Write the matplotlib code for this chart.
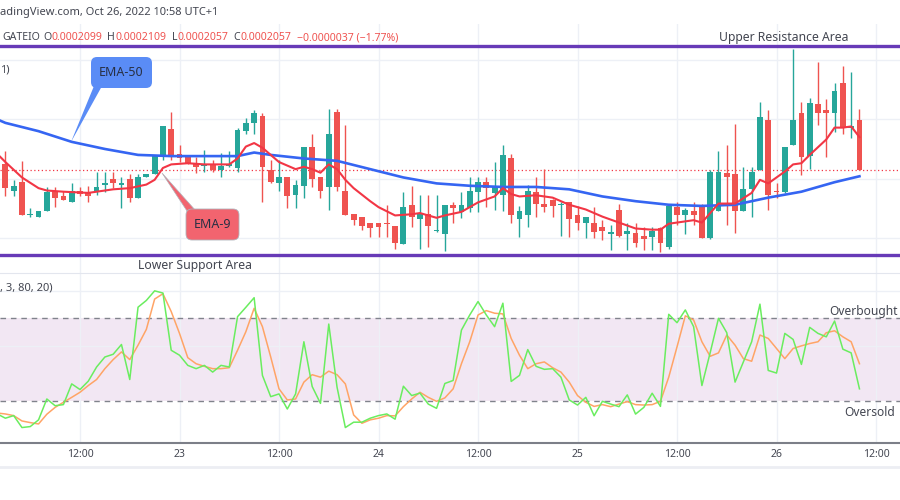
import numpy as np
import matplotlib
matplotlib.use('Agg')
import matplotlib.pyplot as plt
from matplotlib.patches import FancyBboxPatch, Polygon
from matplotlib.lines import Line2D
from matplotlib.transforms import Affine2D

plt.rcParams['font.family'] = ['Noto Sans', 'DejaVu Sans']

# GATEIO hourly candles, first one Oct 22 03:00 (UTC+1)
# prices in units of 1e-7 USDT
opens = [2062, 2040, 2047, 2019, 2018, 2023, 2040, 2035, 2030, 2040,
         2038, 2039, 2045, 2050, 2045, 2050, 2034, 2051, 2054, 2070,
         2092, 2071, 2068, 2062, 2061, 2062, 2057, 2061, 2059, 2090,
         2097, 2103, 2057, 2046, 2051, 2036, 2044, 2077, 2051, 2043,
         2106, 2040, 2020, 2018, 2013, 2013, 2013, 2010, 1995, 2028,
         2016, 2020, 2006, 2003, 2028, 2022, 2025, 2039, 2047, 2038,
         2036, 2067, 2016, 2019, 2039, 2029, 2032, 2028, 2030, 2019,
         2013, 2013, 2009, 2003, 2024, 2003, 2004, 2002, 2001, 2008,
         1992, 2026, 2019, 2023, 2027, 2000, 2023, 2055, 2054, 2023,
         2041, 2057, 2099, 2040, 2039, 2078, 2105, 2069, 2113, 2108,
         2105, 2131, 2093, 2099]
highs = [2073, 2049, 2065, 2025, 2023, 2043, 2043, 2040, 2046, 2043,
         2044, 2056, 2056, 2056, 2051, 2054, 2054, 2054, 2070, 2094,
         2106, 2078, 2070, 2068, 2074, 2066, 2072, 2073, 2093, 2101,
         2108, 2105, 2066, 2066, 2051, 2049, 2077, 2088, 2051, 2109,
         2109, 2095, 2020, 2018, 2013, 2013, 2028, 2010, 2039, 2044,
         2036, 2036, 2036, 2028, 2030, 2039, 2051, 2051, 2051, 2064,
         2078, 2071, 2027, 2045, 2051, 2058, 2033, 2030, 2030, 2027,
         2018, 2026, 2015, 2011, 2029, 2013, 2013, 2009, 2009, 2009,
         2029, 2030, 2025, 2030, 2029, 2057, 2073, 2078, 2096, 2060,
         2060, 2115, 2108, 2046, 2077, 2159, 2115, 2118, 2148, 2117,
         2131, 2145, 2140, 2109]
lows = [2035, 2035, 2019, 2018, 2018, 2023, 2026, 2032, 2030, 2035,
        2030, 2036, 2039, 2042, 2025, 2030, 2034, 2051, 2054, 2066,
        2066, 2064, 2062, 2055, 2056, 2056, 2051, 2060, 2056, 2088,
        2088, 2030, 2046, 2040, 2025, 2025, 2034, 2043, 2034, 2024,
        2040, 2019, 2011, 2007, 2001, 2001, 2001, 1991, 1995, 2009,
        1991, 1992, 2005, 1989, 2013, 2017, 2022, 2022, 2026, 2024,
        2023, 2013, 2001, 2009, 2018, 2022, 2018, 2002, 2001, 2007,
        2000, 2000, 1998, 1990, 2001, 1990, 1992, 1990, 1990, 1988,
        1991, 2011, 2003, 2011, 2000, 1999, 2023, 2011, 2004, 2023,
        2018, 2057, 2024, 2034, 2038, 2078, 2053, 2058, 2095, 2068,
        2089, 2088, 2084, 2057]
closes = [2042, 2044, 2019, 2020, 2023, 2039, 2034, 2032, 2040, 2037,
          2035, 2043, 2046, 2046, 2046, 2034, 2051, 2054, 2070, 2094,
          2070, 2067, 2062, 2060, 2062, 2057, 2061, 2062, 2091, 2097,
          2105, 2060, 2047, 2051, 2035, 2045, 2077, 2050, 2040, 2088,
          2043, 2019, 2015, 2010, 2008, 2009, 2012, 1996, 2026, 2018,
          2021, 2010, 2007, 2028, 2025, 2028, 2040, 2047, 2042, 2044,
          2070, 2019, 2023, 2040, 2029, 2026, 2027, 2029, 2016, 2013,
          2018, 2005, 2006, 2005, 2002, 2006, 1996, 1999, 2006, 1996,
          2027, 2019, 2024, 2019, 2000, 2056, 2056, 2051, 2023, 2041,
          2056, 2102, 2036, 2039, 2077, 2099, 2068, 2114, 2105, 2105,
          2124, 2093, 2094, 2057]

# moving averages (candle index, price)
ema50_idx = [-1, 0, 4, 8, 12, 16, 20, 24, 28, 30, 32, 36, 40, 44, 48, 52,
             56, 60, 64, 68, 72, 76, 80, 84, 88, 92, 96, 100, 103]
ema50 = [2100, 2097, 2090, 2081, 2075, 2070, 2069, 2069, 2069, 2072, 2070,
         2067, 2065, 2058, 2051, 2046, 2044, 2043, 2043, 2041, 2035, 2031,
         2028, 2027, 2028, 2034, 2039, 2047, 2052]
ema9_idx = [-1, 0, 2, 4, 5, 7, 10, 11, 13, 15, 17, 18, 19, 20, 22, 24, 27,
            28, 29, 30, 31, 33, 35, 36, 37, 38, 39, 40, 41, 42, 44, 45, 47,
            49, 50, 52, 53, 55, 57, 59, 60, 61, 62, 64, 66, 68, 70, 72, 74,
            76, 78, 79, 80, 83, 84, 85, 86, 88, 90, 91, 92, 94, 95, 96, 97,
            99, 100, 101, 102, 103]
ema9 = [2071, 2064, 2051, 2042, 2040, 2039, 2038, 2039, 2041, 2042, 2045,
        2049, 2059, 2062, 2063, 2062, 2062, 2067, 2077, 2080, 2076, 2064,
        2058, 2060, 2058, 2055, 2062, 2058, 2049, 2042, 2031, 2026, 2019,
        2020, 2021, 2017, 2019, 2022, 2030, 2035, 2042, 2037, 2035, 2036,
        2034, 2028, 2024, 2018, 2013, 2008, 2007, 2007, 2012, 2015, 2013,
        2021, 2029, 2029, 2038, 2049, 2046, 2056, 2062, 2063, 2070, 2083,
        2093, 2093, 2094, 2085]

# stochastic (80 / 20 levels), starts one candle before the first full candle
stoch_k = [10.4, 7.2, 9.1, 0.4, 1.1, 6.0, 21.2, 16.3, 17.1, 32.2, 28.1,
           34.2, 44.5, 51.8, 53.8, 60.9, 35.4, 88.1, 93.0, 100.0, 98.4,
           56.7, 53.1, 45.7, 43.3, 45.7, 40.8, 45.7, 44.5, 81.2, 88.0,
           95.0, 38.4, 22.9, 24.9, 13.9, 24.9, 62.9, 30.3, 18.0, 75.8,
           29.8, 0.4, 4.3, 4.3, 7.2, 9.1, 10.3, 6.5, 30.5, 23.7, 25.5,
           17.5, 14.4, 32.5, 34.7, 71.4, 82.4, 92.2, 82.4, 73.9, 91.0,
           34.0, 38.4, 57.2, 45.0, 42.8, 43.3, 37.1, 20.5, 16.8, 22.4,
           9.0, 19.5, 17.5, 15.6, 24.2, 10.2, 15.1, 25.4, 15.8, 82.9,
           76.8, 86.1, 73.9, 31.0, 55.0, 80.0, 69.5, 33.5, 48.2, 62.9,
           90.3, 42.0, 40.1, 69.0, 64.6, 46.4, 73.4, 69.0, 66.5, 78.0,
           57.5, 54.8, 28.6]
stoch_d = [11.0, 10.3, 9.1, 5.2, 4.0, 3.0, 10.1, 15.1, 18.8, 22.4, 26.1,
           31.0, 35.4, 43.3, 49.9, 55.5, 49.9, 60.4, 71.9, 94.0, 97.9,
           84.9, 69.0, 51.3, 46.9, 45.0, 43.3, 43.3, 44.0, 56.7, 70.2,
           87.3, 73.9, 51.8, 28.6, 20.5, 21.2, 33.5, 38.9, 37.1, 41.5,
           38.9, 32.2, 9.6, 3.5, 6.0, 7.2, 9.1, 8.9, 15.6, 21.2, 26.1,
           22.4, 19.5, 22.0, 28.6, 46.9, 62.9, 82.4, 85.6, 83.7, 83.2,
           65.3, 53.1, 43.3, 46.9, 48.2, 44.0, 40.8, 33.5, 23.7, 18.8,
           15.8, 17.1, 15.6, 17.5, 19.3, 17.1, 16.8, 17.1, 19.5, 37.1,
           59.2, 81.8, 78.8, 62.9, 52.3, 54.8, 67.8, 60.4, 50.6, 48.7,
           67.8, 65.3, 58.0, 50.6, 58.0, 59.9, 61.6, 62.9, 69.5, 70.9,
           66.5, 62.9, 46.9]

resistance = 2162
support = 1986

tick_idx = [9, 21, 33, 45, 57, 69, 81, 93, 105]
tick_lbl = ['12:00', '23', '12:00', '24', '12:00', '25', '12:00', '26', '12:00']
price_grid = [2000, 2050, 2100, 2150]
stoch_grid = [60, 100]

UP, DN = '#26a69a', '#ef5350'
GRID = '#edf0f6'
TXT = '#434651'
PURPLE = '#673ab7'

W, H = 900, 500
fig = plt.figure(figsize=(9, 5), dpi=100)
fig.patch.set_facecolor('white')
pxt = Affine2D().scale(1.0 / W, 1.0 / H) + fig.transFigure   # pixel coords, y up


def fx(x):
    return x / W


def fy(y):
    return 1 - y / H


x0, x1 = -0.648, 107.89
axp = fig.add_axes([0, fy(273), 1, (273 - 24) / H])
axs = fig.add_axes([0, fy(442.5), 1, (442.5 - 273) / H])

for ax in (axp, axs):
    ax.set_xlim(x0, x1)
    ax.set_xticks(tick_idx)
    ax.tick_params(length=0, labelleft=False, labelbottom=False)
    ax.grid(True, color=GRID, lw=1)
    ax.set_axisbelow(True)
    for s in ax.spines.values():
        s.set_visible(False)

axp.set_ylim(1970.5, 2180.3)
axp.set_yticks(price_grid)
axs.set_ylim(-10.5, 113.0)
axs.set_yticks(stoch_grid)

# ---- candles
o, h, l, c = map(np.array, (opens, highs, lows, closes))
idx = np.arange(len(o))
col = np.where(c >= o, UP, DN)
axp.vlines(idx, l, h, colors=col, lw=1, zorder=3)
body = np.maximum(np.abs(c - o), 0.8)
axp.bar(idx, body, bottom=np.minimum(o, c), width=0.7, color=col,
        linewidth=0, zorder=4)

axp.axhline(c[-1], color='#f23645', lw=0.9, ls=(0, (1, 2)), zorder=2)
axp.plot(ema50_idx, ema50, color='#3565f2', lw=1.9, zorder=5,
         solid_joinstyle='round')
axp.plot(ema9_idx, ema9, color='#f23645', lw=1.5, zorder=6,
         solid_joinstyle='round')
axp.axhline(resistance, color=PURPLE, lw=2.4, zorder=7)
axp.axhline(support, color=PURPLE, lw=2.4, zorder=7)

# ---- stochastic
sidx = np.arange(-1, len(o))
axs.axhspan(20, 80, color='#f2e7f3', lw=0, zorder=0)
axs.axhline(80, color='#80838c', lw=1, ls=(0, (4, 3.5)), zorder=2)
axs.axhline(20, color='#80838c', lw=1, ls=(0, (4, 3.5)), zorder=2)
axs.plot(sidx, stoch_d, color='#ffa466', lw=1.1, zorder=3)
axs.plot(sidx, stoch_k, color='#6aed5f', lw=1.1, zorder=4)

axs.spines['top'].set_visible(True)
axs.spines['top'].set_color('#e3e6ee')
axs.spines['bottom'].set_visible(True)
axs.spines['bottom'].set_color('#7c7f88')
axs.spines['bottom'].set_linewidth(1.5)
axs.tick_params(labelbottom=True, pad=5, labelsize=7.5, labelcolor=TXT)
axs.set_xticklabels(tick_lbl)
for t in axs.get_xticklabels():
    if t.get_text() == '24':
        t.set_fontweight('bold')

fig.add_artist(Line2D([0, 1], [fy(467), fy(467)], color='#eceef3', lw=2))

# ---- texts
fig.text(0, fy(13), 'adingView.com, Oct 26, 2022 10:58 UTC+1', fontsize=8,
         color=TXT, va='center', ha='left')

chg = c[-1] - c[-2]
fmt = lambda v: f'{v * 1e-7:.7f}'
fig.text(fx(2), fy(37.5), 'GATEIO', fontsize=7.6, color=TXT,
         va='center', ha='left')
legend = [(43, 'O', fmt(o[-1])), (107, 'H', fmt(h[-1])),
          (172, 'L', fmt(l[-1])), (233, 'C', fmt(c[-1]))]
for xp, key, val in legend:
    k = fig.text(fx(xp), fy(37.5), key, fontsize=7.6, color=TXT,
                 va='center', ha='left')
    axp.annotate(val, xy=(1, 0.5), xycoords=k, xytext=(0.3, 0),
                 textcoords='offset points', fontsize=7.6, color=DN,
                 va='center', ha='left', annotation_clip=False)
fig.text(fx(297), fy(37.5),
         '\u2212' + fmt(-chg) + f' (\u2212{-chg / c[-2] * 100:.2f}%)',
         fontsize=7.6, color=DN, va='center', ha='left')

fig.text(fx(0), fy(70), '1)', fontsize=8, color=TXT, va='center', ha='left')
fig.text(fx(784), fy(37), 'Upper Resistance Area', fontsize=8.8, color=TXT,
         va='center', ha='center')
fig.text(fx(195.5), fy(265), 'Lower Support Area', fontsize=8.8, color=TXT,
         va='center', ha='center')
fig.text(fx(0), fy(288), ', 3, 80, 20)', fontsize=8, color=TXT,
         va='center', ha='left')
fig.text(fx(898), fy(312), 'Overbought', fontsize=8.6, color=TXT,
         va='center', ha='right')
fig.text(fx(844), fy(413), 'Oversold', fontsize=8.6, color=TXT,
         va='center', ha='left')

# ---- callouts
fig.add_artist(Polygon([(94, H - 86), (102, H - 86), (71, H - 142)],
                       closed=True, transform=pxt, fc='#5a8cf6', ec='none',
                       zorder=8))
fig.add_artist(FancyBboxPatch((91, H - 88), 61, 31,
                              boxstyle='round,pad=0,rounding_size=6',
                              transform=pxt, fc='#5a8cf6', ec='none', zorder=9))
fig.text(fx(121.5), fy(72.5), 'EMA-50', fontsize=9, color='#283044',
         va='center', ha='center', zorder=10)

fig.add_artist(Polygon([(187, H - 211), (196, H - 211), (162, H - 173)],
                       closed=True, transform=pxt, fc='#f2646f', ec='#b0b3bb',
                       lw=0.5, zorder=8))
fig.add_artist(FancyBboxPatch((186, H - 240), 53, 31,
                              boxstyle='round,pad=0,rounding_size=6',
                              transform=pxt, fc='#f2646f', ec='#b0b3bb',
                              lw=0.6, zorder=9))
fig.text(fx(212.5), fy(225), 'EMA-9', fontsize=9, color='#283044',
         va='center', ha='center', zorder=10)

fig.savefig('out.png', dpi=100)
